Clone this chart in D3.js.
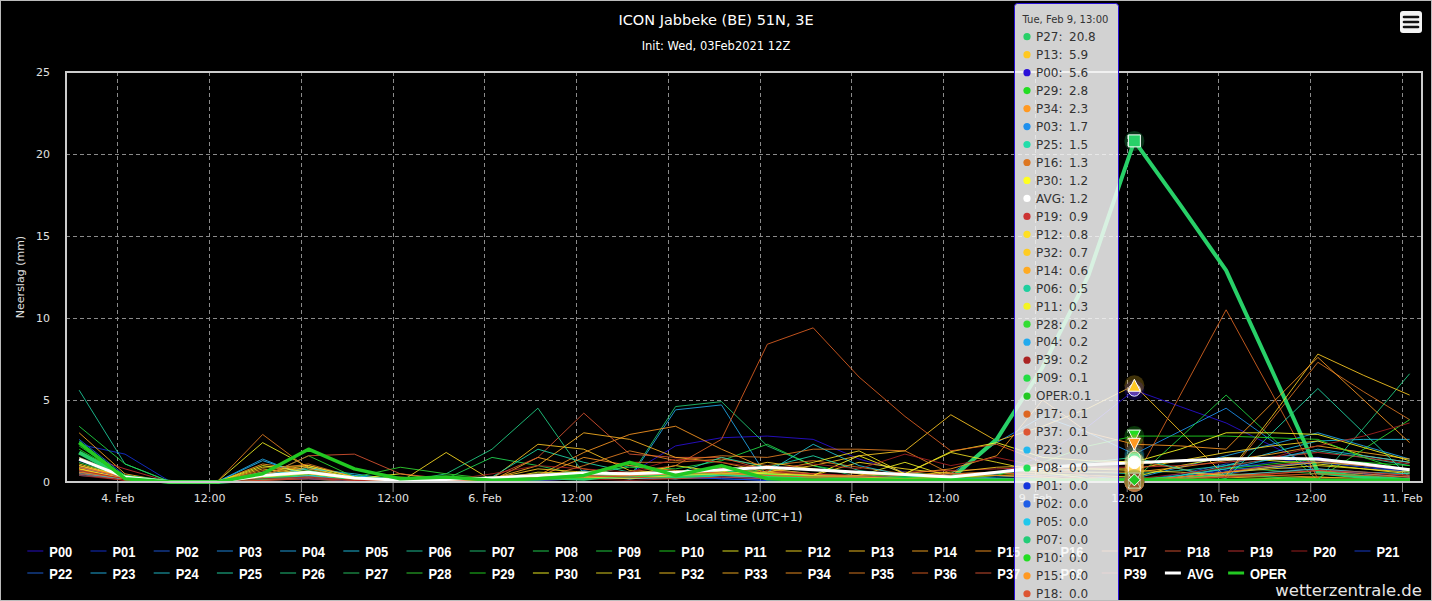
<!DOCTYPE html>
<html>
<head>
<meta charset="utf-8">
<script src="https://cdn.jsdelivr.net/npm/d3@7"></script>
<style>
html, body { margin: 0; padding: 0; background: #000; }
svg { display: block; font-family: "DejaVu Sans", Verdana, sans-serif; }
</style>
</head>
<body>
<div id="chart"></div>
<script>
// time steps (local time, UTC+1)
var times = [
"2021-02-03 19:00","2021-02-04 01:00","2021-02-04 07:00","2021-02-04 13:00","2021-02-04 19:00",
"2021-02-05 01:00","2021-02-05 07:00","2021-02-05 13:00","2021-02-05 19:00",
"2021-02-06 01:00","2021-02-06 07:00","2021-02-06 13:00","2021-02-06 19:00",
"2021-02-07 01:00","2021-02-07 07:00","2021-02-07 13:00","2021-02-07 19:00",
"2021-02-08 01:00","2021-02-08 07:00","2021-02-08 13:00","2021-02-08 19:00",
"2021-02-09 01:00","2021-02-09 07:00","2021-02-09 13:00","2021-02-09 19:00",
"2021-02-10 01:00","2021-02-10 07:00","2021-02-10 13:00","2021-02-10 19:00",
"2021-02-11 01:00"];

var seriesNames = ["P00","P01","P02","P03","P04","P05","P06","P07","P08","P09",
"P10","P11","P12","P13","P14","P15","P16","P17","P18","P19",
"P20","P21","P22","P23","P24","P25","P26","P27","P28","P29",
"P30","P31","P32","P33","P34","P35","P36","P37","P38","P39","AVG","OPER"];

var yTicks = [0, 5, 10, 15, 20, 25];

// precipitation (mm) per 6h
var P00 = [0.6,0.2,0,0,0.2,0.3,0.1,0,0.1,0.1, 0.2,0.3,0.5,2.2,2.7,2.8,2.6,1.4,0.6,0.3, 0.5,1.6,3.4,5.6,4.6,3.6,2.2,0.8,0.5,0.3];
var P01 = [2.3,1.7,0,0,0.3,0.4,0.1,0,0,0.1, 0.1,0.2,0.3,0.2,0.4,0.3,0.2,0.1,0.2,0.1, 0.1,0.1,0.1,0.035,0.3,0.8,1.2,1.5,1.0,0.6];
var P02 = [1.3,0.4,0,0,0.5,0.3,0.2,0,0,0, 0.1,0.5,0.2,0.3,0.2,0.1,0.3,0.4,0.2,0.1, 0.2,0.3,0.1,0.03,0.5,1.1,0.9,0.7,0.5,0.3];
var P03 = [0.6,0.3,0,0,0.6,0.5,0.2,0,0.1,0, 0.1,0.7,0.2,0.3,0.5,0.2,0.2,0.3,0.2,0.5, 2.4,4.0,3.0,1.7,3.1,4.5,2.5,0.5,0.3,0.2];
var P04 = [0.4,0.2,0,0,1.4,0.3,0.4,0,0,0.1, 0.2,0.3,0.2,4.4,4.7,0.3,0.2,0.1,0.3,0.2, 0.3,0.4,0.3,0.22,0.9,1.6,2.3,3.0,2.2,1.4];
var P05 = [0.7,0.3,0,0,0.3,0.9,0.4,0.1,0,0.2, 0.3,0.4,0.3,0.5,0.6,0.4,0.3,0.2,0.4,0.3, 0.2,0.2,0.1,0.025,0.4,1.0,1.8,2.5,2.6,2.6];
var P06 = [5.6,1.1,0,0,0.2,0.4,0.1,0,0.1,0.3, 0.5,0.3,1.0,0.6,0.5,0.3,0.4,0.2,0.3,0.4, 0.6,0.8,0.6,0.5,0.7,1.0,1.4,1.9,1.5,1.0];
var P07 = [1.0,0.3,0,0,0.1,0.2,0,0,0.1,0.2, 0.3,0.4,0.3,4.6,4.9,2.2,1.0,0.3,0.2,0.1, 0.1,0.1,0.1,0.02,0.2,0.6,0.9,1.2,1.0,0.8];
var P08 = [1.2,0.3,0,0,0.2,0.5,0.2,0,0.2,1.5, 1.0,0.4,0.3,0.2,0.4,0.8,0.5,0.3,0.6,0.3, 0.2,0.1,0.1,0.04,0.3,0.9,0.7,0.5,0.3,0.2];
var P09 = [3.4,1.1,0,0,0.3,0.7,0.2,0.1,0.2,0.3, 0.5,0.6,0.9,0.8,1.3,2.3,1.0,0.5,0.3,0.2, 0.1,0.1,0.1,0.14,2.7,5.3,2.7,0.1,0.1,0.1];
var P10 = [2.2,0.3,0,0,0.4,0.8,0.3,0.1,0.3,0.2, 0.3,0.2,0.4,0.3,0.5,0.4,0.2,0.3,0.2,0.1, 0.2,0.1,0.1,0.015,0.4,0.8,1.1,1.4,1.2,1.0];
var P11 = [0.6,0.2,0,0,2.4,0.9,0.2,0.3,0.1,0.1, 0.6,0.5,0.3,0.5,0.4,0.3,0.2,0.4,1.2,0.3, 0.4,0.5,0.4,0.3,1.0,1.5,1.3,1.1,0.8,0.5];
var P12 = [1.1,0.3,0,0,0.9,1.0,0.3,0,1.8,0.1, 0.3,0.4,0.2,0.3,1.0,0.5,0.4,1.2,0.8,0.5, 0.6,0.7,0.8,0.8,1.3,1.8,2.2,2.5,1.6,1.2];
var P13 = [1.0,0.3,0,0,0.5,0.9,0.2,0,0.1,0.2, 2.3,2.0,0.7,0.5,0.4,0.6,1.0,1.6,1.9,4.1, 2.5,3.4,4.5,5.9,3.1,0.3,0.2,0.3,0.2,0.1];
var P14 = [3.0,0.5,0,0,0.4,0.6,0.2,0,0.1,0.1, 1.5,0.8,0.4,0.6,0.9,0.5,0.4,0.3,0.2,0.4, 0.5,0.6,0.6,0.6,0.9,1.3,1.7,2.2,1.8,1.4];
var P15 = [0.9,0.3,0,0,1.1,0.7,0.2,0,0,0.1, 0.4,1.8,2.9,3.4,2.0,0.8,0.5,0.3,0.2,0.1, 0.2,0.1,0.1,0.01,0.3,0.5,0.4,0.3,0.2,0.2];
var P16 = [0.8,0.4,0,0,0.7,1.1,0.3,0,0.1,0.2, 0.3,0.5,1.2,1.2,1.4,1.0,1.3,0.9,0.5,0.4, 0.6,0.9,1.1,1.3,0.8,0.3,3.8,7.3,5.5,3.8];
var P17 = [0.5,0.2,0,0,0.3,0.4,0.1,0,0,0.1, 0.2,0.3,0.4,0.6,0.5,0.4,0.3,0.2,0.2,0.1, 0.1,0.1,0.1,0.11,5.3,10.5,5.4,0.2,0.1,0.1];
var P18 = [0.7,0.3,0,0,0.2,0.3,0.1,0,0.1,0.3, 1.5,4.2,1.7,1.5,1.5,0.7,0.5,0.3,0.2,0.3, 0.2,0.1,0.1,0.005,0.2,0.4,0.6,0.8,0.6,0.4];
var P19 = [1.7,0.8,0,0,0.2,0.5,0.3,0,0.1,0.2, 0.3,0.6,0.5,0.4,0.8,0.6,0.5,0.4,0.6,0.7, 0.8,0.9,0.9,0.9,1.0,1.2,1.5,1.8,1.5,1.1];
var P20 = [0.4,0.1,0,0,0.1,0.2,0,0,0,0, 0.1,0.2,0.1,0.2,0.3,0.2,0.1,0.1,0.2,0.1, 0.1,0.1,0,0,0.2,0.4,0.3,0.2,0.2,0.1];
var P21 = [0.9,0.2,0,0,0.3,0.2,0.1,0,0,0.1, 0.2,0.3,0.2,0.3,0.2,0.1,0.2,0.3,0.2,0.1, 0.1,0,0,0,0.3,0.7,1.0,1.2,0.9,0.6];
var P22 = [2.6,0.4,0,0,0.2,0.3,0.2,0,0,0, 0.1,0.2,0.3,0.2,0.3,0.2,0.1,0.2,0.1,0.1, 0.1,0,0,0,0.2,0.5,0.9,1.3,1.0,0.7];
var P23 = [0.5,0.2,0,0,1.3,0.4,0.2,0,0,0.1, 0.2,0.3,0.2,0.3,0.4,0.3,0.2,0.3,0.1,0.1, 0.2,0.1,0.1,0.045,0.4,0.8,1.4,2.0,1.6,1.2];
var P24 = [0.5,0.2,0,0,0.4,0.8,0.5,0.1,0.1,0.2, 0.3,0.6,0.4,0.3,0.4,0.6,2.3,1.0,0.4,0.2, 0.2,0.1,0,0,0.2,0.4,0.6,0.8,0.6,0.5];
var P25 = [1.5,0.4,0,0,0.2,0.4,0.2,0,0.2,0.3, 2.0,1.2,0.6,0.5,1.5,0.9,1.6,0.7,0.4,0.3, 0.5,0.8,1.2,1.5,0.8,0.2,3.0,5.7,3.0,0.3];
var P26 = [2.5,0.3,0,0,0.2,0.3,0.1,0,0.5,2.0, 4.5,0.5,0.3,0.2,0.4,0.3,0.2,0.1,0.1,0.1, 0.1,0,0,0,0.2,0.5,0.3,0.1,3.3,6.6];
var P27 = [1.8,0.3,0,0,0.2,0.6,0.2,0.1,0.2,0.1, 0.3,0.2,0.5,0.3,0.6,0.4,0.3,0.2,0.1,0.2, 2.6,7.0,12.6,20.8,16.9,12.9,6.8,0.6,0.3,0.1];
var P28 = [2.4,0.3,0,0,0.3,1.6,0.3,0.9,0.5,0.2, 0.3,0.2,0.3,0.4,1.0,0.5,0.3,0.2,0.2,0.1, 0.1,0.2,0.2,0.24,0.3,0.4,0.3,0.2,2.0,3.8];
var P29 = [2.0,0.4,0,0,0.4,0.6,0.2,0,0.3,0.2, 0.3,0.5,1.1,0.6,0.5,0.4,0.3,0.2,0.3,0.2, 0.4,1.2,2.2,2.8,2.8,2.8,2.7,2.6,1.5,0.6];
var P30 = [0.8,0.2,0,0,1.0,0.6,0.2,0.5,0.1,0.1, 0.2,0.3,0.4,1.0,0.6,0.5,0.4,1.6,0.5,1.85, 2.4,1.5,1.3,1.22,2.0,3.0,3.0,2.9,2.1,1.3];
var P31 = [0.9,0.3,0,0,0.3,0.5,0.2,0,0.1,0.1, 0.2,0.3,0.2,0.4,0.5,0.6,1.2,1.9,0.5,1.8, 1.2,0.6,0.2,0,0.3,0.6,0.8,1.0,0.8,0.6];
var P32 = [0.8,0.2,0,0,0.6,1.0,0.3,0,0.1,0.2, 0.8,0.6,0.4,0.5,0.6,1.2,0.8,0.5,0.4,0.6, 0.9,1.0,0.8,0.7,0.6,0.4,4.0,7.8,6.5,5.3];
var P33 = [1.0,0.3,0,0,0.8,0.5,0.2,0,0.1,0.2, 1.0,3.0,2.6,1.5,1.2,0.6,0.4,0.3,0.2,0.3, 0.4,0.3,0.1,0,0.3,0.6,0.9,1.2,1.0,0.8];
var P34 = [0.7,0.2,0,0,0.4,0.6,0.2,0,0,0.1, 0.3,1.5,1.0,0.7,0.5,0.4,0.3,0.4,0.5,0.8, 1.6,5.0,3.0,2.3,2.2,2.0,4.8,7.6,5.0,2.4];
var P35 = [1.5,0.3,0,0,2.9,0.8,0.2,0,0.1,0.1, 0.2,1.0,1.9,1.3,1.6,1.5,2.0,2.0,1.9,0.5, 0.4,0.3,0.1,0,0.2,0.4,0.5,0.7,0.5,0.3];
var P36 = [0.6,0.2,0,0,0.1,0.3,0.1,0,0.1,0.2, 0.3,0.4,0.6,1.0,2.6,8.4,9.4,6.4,4.0,1.9, 2.3,1.2,0.3,0,0.2,0.3,0.4,0.5,0.4,0.3];
var P37 = [0.9,0.3,0,0,0.3,1.6,1.7,0.5,0.2,0.1, 0.2,0.3,0.4,0.5,0.6,0.4,0.3,0.3,0.4,0.5, 0.6,0.4,0.2,0.08,0.3,0.6,1.0,1.3,1.0,0.7];
var P38 = [0.5,0.1,0,0,0.1,0.2,0.1,0,0,0.3, 0.5,0.4,0.3,0.2,0.3,0.2,0.2,0.1,0.1,0.1, 0.1,0,0,0,0.1,0.3,0.5,0.7,0.6,0.4];
var P39 = [0.7,0.2,0,0,0.2,0.3,0.1,0,0.1,0.5, 1.0,0.8,0.6,1.4,1.2,0.8,1.1,0.8,1.7,1.0, 1.5,0.9,0.4,0.18,0.5,0.9,1.5,2.2,2.8,3.6];
var AVG = [1.4,0.3,0,0,0.4,0.6,0.25,0.1,0.15,0.25, 0.4,0.55,0.5,0.6,0.75,0.9,0.75,0.6,0.45,0.3, 0.6,0.9,1.05,1.18,1.3,1.4,1.45,1.4,1.1,0.75];
var OPER = [2.4,0.2,0,0,0.5,2.0,0.8,0.2,0.3,0.1, 0.2,0.4,1.2,0.4,1.0,0.2,0.1,0.1,0.1,0.1, 0.1,0.1,0.1,0.13,0.1,0.1,0.1,0.1,0.1,0.1];

var seriesValues = [P00,P01,P02,P03,P04,P05,P06,P07,P08,P09,P10,P11,P12,P13,P14,P15,P16,P17,P18,P19,
  P20,P21,P22,P23,P24,P25,P26,P27,P28,P29,P30,P31,P32,P33,P34,P35,P36,P37,P38,P39,AVG,OPER];

var seriesColors = ["#2a10d8","#1434dc","#1f5ee6","#1e90ee","#22aaee","#20c8ec","#1fcf9f","#22cc77","#22dd55","#22dd44",
  "#22dd22","#f4f422","#ffdf22","#ffc822","#ffaa22","#ff9922","#dd7722","#dd6622","#dd5533","#cc3333",
  "#aa2222","#1840dc","#1e66e4","#22b8ee","#22c8d8","#22ddaa","#22d488","#28d068","#33dd33","#22dd22",
  "#ffff22","#f0e022","#ffcc22","#ffb422","#ff9922","#e88022","#e06022","#dd5533","#cc3a2a","#aa2222",
  "#ffffff","#22c822"];

var hoverTime = "2021-02-09 13:00";
var hoverSeries = "P27";

// ---- layout
var W = 1432, H = 601;
var plot = {left: 66, right: 1422, top: 72, bottom: 482};
var parseTime = d3.timeParse("%Y-%m-%d %H:%M");
var dates = times.map(parseTime);

var x = d3.scaleTime()
    .domain([parseTime("2021-02-03 17:17"), parseTime("2021-02-11 02:37")])
    .range([plot.left, plot.right]);
var y = d3.scaleLinear().domain([0, 25]).range([plot.bottom, plot.top]);

var svg = d3.select("#chart").append("svg")
    .attr("width", W).attr("height", H);

svg.append("rect").attr("width", W).attr("height", H).attr("fill", "#000");

// titles
svg.append("text")
    .attr("x", 716).attr("y", 25)
    .attr("text-anchor", "middle").attr("fill", "#fff")
    .style("font-size", "14.5px")
    .text("ICON Jabbeke (BE) 51N, 3E");
svg.append("text")
    .attr("x", 716).attr("y", 50)
    .attr("text-anchor", "middle").attr("fill", "#fff")
    .style("font-size", "11.5px")
    .text("Init: Wed, 03Feb2021 12Z");

// grid
var xTicks = x.ticks(d3.timeHour.every(12));
svg.append("g").selectAll("line").data(yTicks.slice(1, -1)).enter().append("line")
    .attr("x1", plot.left).attr("x2", plot.right)
    .attr("y1", d => y(d) + 0.5).attr("y2", d => y(d) + 0.5)
    .attr("stroke", "#8a8a8a").attr("stroke-dasharray", "4,3");
svg.append("g").selectAll("line").data(xTicks).enter().append("line")
    .attr("x1", d => Math.round(x(d)) + 0.5).attr("x2", d => Math.round(x(d)) + 0.5)
    .attr("y1", plot.top).attr("y2", plot.bottom)
    .attr("stroke", "#8a8a8a").attr("stroke-dasharray", "4,3");

// x axis
var xAxis = svg.append("g")
    .attr("transform", "translate(0," + plot.bottom + ")")
    .call(d3.axisBottom(x).tickValues(xTicks).tickSize(10).tickPadding(2)
      .tickFormat(d => d.getHours() === 0 ? d3.timeFormat("%-d. %b")(d) : "12:00"));
xAxis.select(".domain").remove();
xAxis.selectAll(".tick line").attr("stroke", "#8a8a8a");
xAxis.selectAll("text").attr("fill", "#e0e0e0").style("font-size", "11px")
    .style("font-family", "DejaVu Sans, sans-serif");

// y axis labels
svg.append("g").selectAll("text").data(yTicks).enter().append("text")
    .attr("x", 50).attr("y", d => y(d) + 4)
    .attr("text-anchor", "end").attr("fill", "#e0e0e0")
    .style("font-size", "11px")
    .text(d => d);

svg.append("text")
    .attr("transform", "translate(24," + ((plot.top + plot.bottom) / 2) + ") rotate(-90)")
    .attr("text-anchor", "middle").attr("fill", "#e0e0e0")
    .style("font-size", "11px")
    .text("Neerslag (mm)");
svg.append("text")
    .attr("x", (plot.left + plot.right) / 2).attr("y", 521)
    .attr("text-anchor", "middle").attr("fill", "#e0e0e0")
    .style("font-size", "12px")
    .text("Local time (UTC+1)");

// lines
var line = d3.line()
    .x((d, i) => x(dates[i]))
    .y(d => y(d));

function lineWidth(name) {
  if (name === hoverSeries) return 4;
  if (name === "AVG") return 3;
  if (name === "OPER") return 3.5;
  return 1;
}

svg.append("g").selectAll("path").data(seriesValues).enter().append("path")
    .attr("d", line)
    .attr("fill", "none")
    .attr("stroke", (d, i) => seriesColors[i])
    .attr("stroke-width", (d, i) => lineWidth(seriesNames[i]))
    .attr("stroke-opacity", (d, i) => lineWidth(seriesNames[i]) > 1 ? 1 : 0.85)
    .attr("stroke-linejoin", "round");

// plot border
svg.append("rect")
    .attr("x", plot.left).attr("y", plot.top)
    .attr("width", plot.right - plot.left).attr("height", plot.bottom - plot.top)
    .attr("fill", "none").attr("stroke", "#cccccc").attr("stroke-width", 2);

// hover markers
var hi = times.indexOf(hoverTime);
var symbols = ["circle", "diamond", "square", "triangle", "triangle-down"];
function symbolPath(type, cx, cy, r) {
  var x0 = cx - r, y0 = cy - r, w = 2 * r;
  if (type === "square") return "M" + x0 + "," + y0 + "h" + w + "v" + w + "h" + (-w) + "Z";
  if (type === "triangle") return "M" + cx + "," + y0 + "L" + (x0 + w) + "," + (y0 + w) + "L" + x0 + "," + (y0 + w) + "Z";
  if (type === "triangle-down") return "M" + x0 + "," + y0 + "L" + (x0 + w) + "," + y0 + "L" + cx + "," + (y0 + w) + "Z";
  if (type === "diamond") return "M" + cx + "," + y0 + "L" + (x0 + w) + "," + cy + "L" + cx + "," + (y0 + w) + "L" + x0 + "," + cy + "Z";
  return "M" + (cx - r) + "," + cy + "a" + r + "," + r + " 0 1,0 " + w + ",0a" + r + "," + r + " 0 1,0 " + (-w) + ",0Z";
}
var mk = svg.append("g");
seriesValues.forEach(function(vals, i) {
  var cx = x(dates[hi]), cy = y(vals[hi]);
  mk.append("circle").attr("cx", cx).attr("cy", cy).attr("r", 10)
    .attr("fill", seriesColors[i]).attr("fill-opacity", 0.25);
  mk.append("path").attr("d", symbolPath(symbols[i % 5], cx, cy, 6))
    .attr("fill", seriesColors[i]).attr("stroke", "#fff").attr("stroke-width", 1);
});

// legend
var legend = svg.append("g");
seriesNames.forEach(function(name, k) {
  var row = k < 22 ? 0 : 1, col = row ? k - 22 : k;
  var lx = 27.3 + col * 63.2, ly = row ? 573 : 551;
  var thick = name === "AVG" || name === "OPER";
  legend.append("line")
    .attr("x1", lx).attr("x2", lx + 16).attr("y1", ly).attr("y2", ly)
    .attr("stroke", seriesColors[k])
    .attr("stroke-width", thick ? 3 : 2)
    .attr("stroke-opacity", thick ? 1 : 0.45);
  legend.append("text")
    .attr("transform", "translate(" + (lx + 22) + "," + (ly + 5.5) + ") scale(0.86,1)")
    .attr("fill", "#fff")
    .style("font-family", "'Liberation Sans', Arial, sans-serif")
    .style("font-weight", "bold").style("font-size", "15px")
    .text(name);
});

// credits
svg.append("text")
    .attr("x", 1422).attr("y", 596)
    .attr("text-anchor", "end").attr("fill", "#e6e6e6")
    .style("font-size", "16.5px")
    .text("wetterzentrale.de");

// menu button
svg.append("rect").attr("x", 1400).attr("y", 11).attr("width", 22).attr("height", 22)
    .attr("rx", 3).attr("fill", "#f4f4f4");
[17, 22, 27].forEach(function(by) {
  svg.append("line").attr("x1", 1404).attr("x2", 1418).attr("y1", by).attr("y2", by)
    .attr("stroke", "#111").attr("stroke-width", 2.6).attr("stroke-linecap", "round");
});

// tooltip (shared, sorted by value)
var rows = seriesNames.map((n, i) => ({name: n, value: seriesValues[i][hi], color: seriesColors[i]}));
rows.sort((a, b) => b.value - a.value);
var tip = svg.append("g").attr("transform", "translate(1014,3)");
tip.append("rect").attr("x", 0.5).attr("y", 0.5).attr("width", 104).attr("height", 800)
    .attr("rx", 3).attr("fill", "rgba(247,247,247,0.85)")
    .attr("stroke", seriesColors[0]).attr("stroke-width", 1);
tip.append("text").attr("x", 8.5).attr("y", 20)
    .attr("fill", "#333").style("font-size", "10px")
    .text(d3.timeFormat("%a, %b %-d, %H:%M")(dates[hi]));
rows.forEach(function(r, k) {
  var ry = 33.7 + k * 17.97;
  tip.append("circle").attr("cx", 13).attr("cy", ry).attr("r", 3.6).attr("fill", r.color);
  var label = tip.append("text").attr("x", 22).attr("y", ry + 4.3)
    .attr("fill", "#333").style("font-size", "12px")
    .text(r.name + ":");
  var vx = Math.max(55, 22 + label.node().getComputedTextLength());
  tip.append("text").attr("x", vx).attr("y", ry + 4.3)
    .attr("fill", "#333").style("font-size", "12px")
    .text(r.value.toFixed(1));
});

// outer border
svg.append("rect").attr("x", 0.5).attr("y", 0.5).attr("width", W - 1).attr("height", H - 1)
    .attr("fill", "none").attr("stroke", "#bbbbbb");
</script>
</body>
</html>
